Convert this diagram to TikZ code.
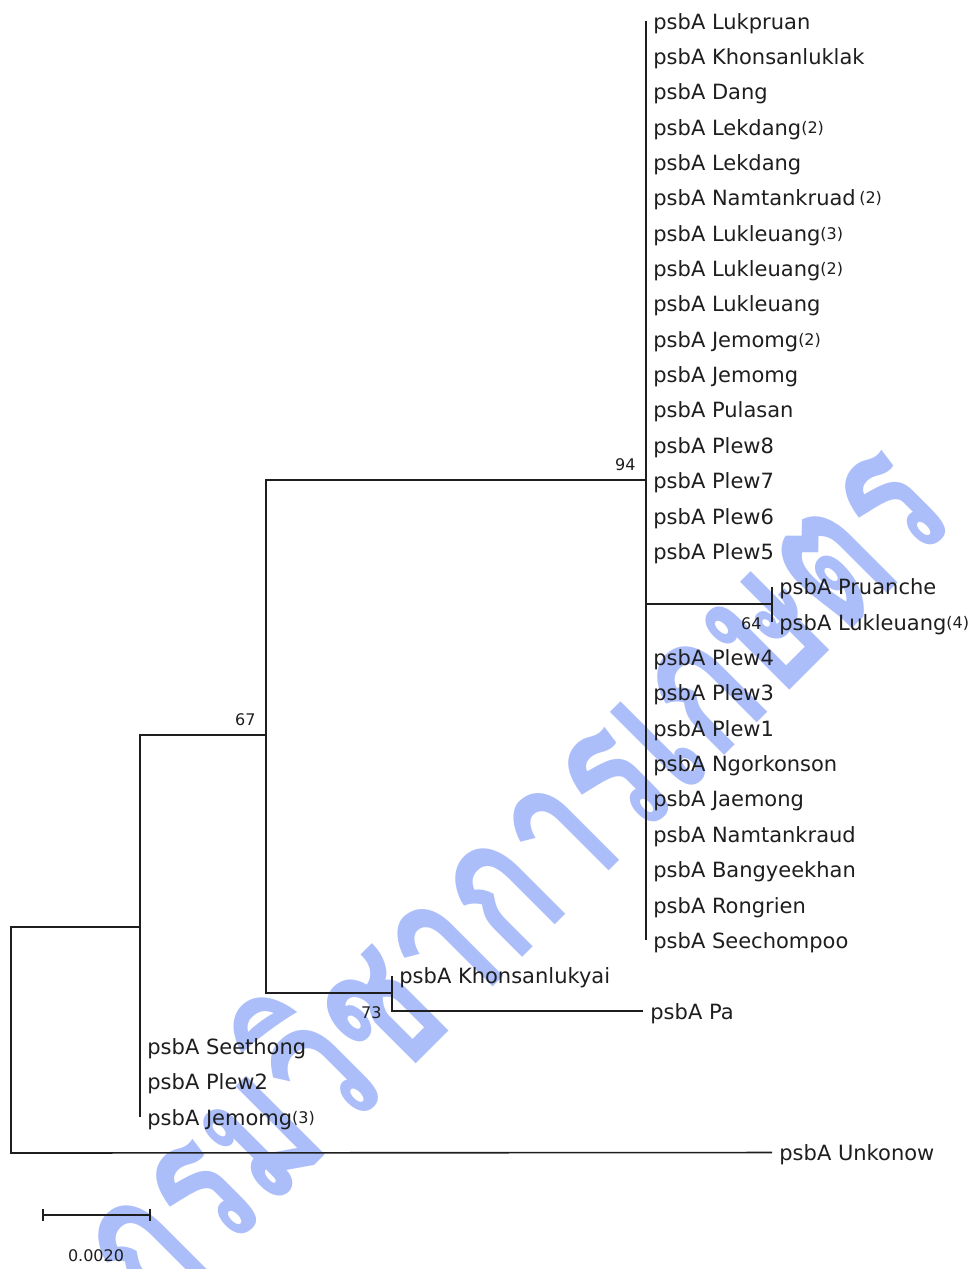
\documentclass[tikz,border=0pt]{standalone}
\usepackage{fontspec}
\setmainfont{DejaVu Sans}
\newfontfamily\thaifont[Script=Thai]{Loma}
\usetikzlibrary{arrows.meta,positioning}
\definecolor{ink}{RGB}{30,30,30}
\definecolor{wmblue}{RGB}{172,190,250}
% kleine Anzahl hinter dem Namen
\newcommand{\cnt}[1]{\raisebox{1pt}{\fontsize{8pt}{8pt}\selectfont(#1)}}

\begin{document}
\begin{tikzpicture}[x=0.5pt, y=-0.5pt,
    branch/.style={draw=ink, line width=0.8pt},
    leaf/.style={anchor=west, inner xsep=3.5pt, inner ysep=0pt, text=ink,
        font=\fontsize{10.5pt}{12pt}\selectfont, text height=10.5pt, text depth=2.5pt},
    boot/.style={inner sep=0pt, text=ink, font=\fontsize{8pt}{9pt}\selectfont}]
    % Abmessungen
    \def\yo{21}
    \def\dy{35.36}
    \def\xc{646}
    \useasboundingbox (0,0) rectangle (976,1269);

    % Wasserzeichen
    \begin{scope}
        \clip (0,0) rectangle (976,1269);
        \node[rotate=45, xscale=0.7, text=wmblue, font=\thaifont\bfseries\fontsize{100pt}{100pt}\selectfont] (wmark) at (500,865) {กรมวิชาการเกษตร};
    \end{scope}

    % Blaetter der grossen Gruppe (94)
    \foreach \nm [count=\i] in {Lukpruan, Khonsanluklak, Dang, Lekdang\cnt{2}, Lekdang,
        Namtankruad\,\cnt{2}, Lukleuang\cnt{3}, Lukleuang\cnt{2}, Lukleuang, Jemomg\cnt{2},
        Jemomg, Pulasan, Plew8, Plew7, Plew6, Plew5}
        \node[leaf] (t\i) at (\xc, {\yo+(\i-1)*\dy}) {psbA \nm};
    \foreach \nm [count=\i from 19] in {Plew4, Plew3, Plew1, Ngorkonson, Jaemong,
        Namtankraud, Bangyeekhan, Rongrien, Seechompoo}
        \node[leaf] (t\i) at (\xc, {\yo+(\i-1)*\dy}) {psbA \nm};

    % uebrige Blaetter
    \node[leaf] (t17) at (772, {\yo+16*\dy}) {psbA Pruanche};
    \node[leaf] (t18) at (772, {\yo+17*\dy}) {psbA Lukleuang\cnt{4}};
    \node[leaf] (t28) at (392, {\yo+27*\dy}) {psbA Khonsanlukyai};
    \node[leaf] (t29) at (643, {\yo+28*\dy}) {psbA Pa};
    \node[leaf] (t30) at (140, {\yo+29*\dy}) {psbA Seethong};
    \node[leaf] (t31) at (140, {\yo+30*\dy}) {psbA Plew2};
    \node[leaf] (t32) at (140, {\yo+31*\dy}) {psbA Jemomg\cnt{3}};
    \node[leaf] (t33) at (772, {\yo+32*\dy}) {psbA Unkonow};

    % innere Knoten
    \coordinate (n94) at (\xc,480);
    \coordinate (n64) at (772,604);
    \coordinate (n73) at (392,993);
    \coordinate (n67) at (266,735);
    \coordinate (nA) at (140,927);
    \coordinate (root) at (11,1153);

    % Aeste
    \draw[branch] (t1.west) -- (t27.west);
    \draw[branch] (n64 -| n94) -- (n64);
    \draw[branch] (t17.west) -- (t18.west);
    \draw[branch] (n94) -| (n67) |- (n73);
    \draw[branch] (t28.west) -- (n73 |- t29) -- (t29.west);
    \draw[branch] (n67) -| (t32.west);
    \draw[branch] (nA) -| (root) -- (t33.west);

    % Bootstrap-Werte
    \node[boot, anchor=base east] (b94) at (636,470) {94};
    \node[boot, anchor=base east] (b64) at (762,629) {64};
    \node[boot, anchor=base east] (b67) at (256,725) {67};
    \node[boot, anchor=base east] (b73) at (382,1018) {73};

    % Massstab
    \coordinate (s0) at (42,1215);
    \coordinate (s1) at (151,1215);
    \draw[branch, {Bar[width=6pt]}-{Bar[width=6pt]}] (s0) -- (s1);
    \node[boot, anchor=base] (sl) at (96,1261) {0.0020};
\end{tikzpicture}
\end{document}
